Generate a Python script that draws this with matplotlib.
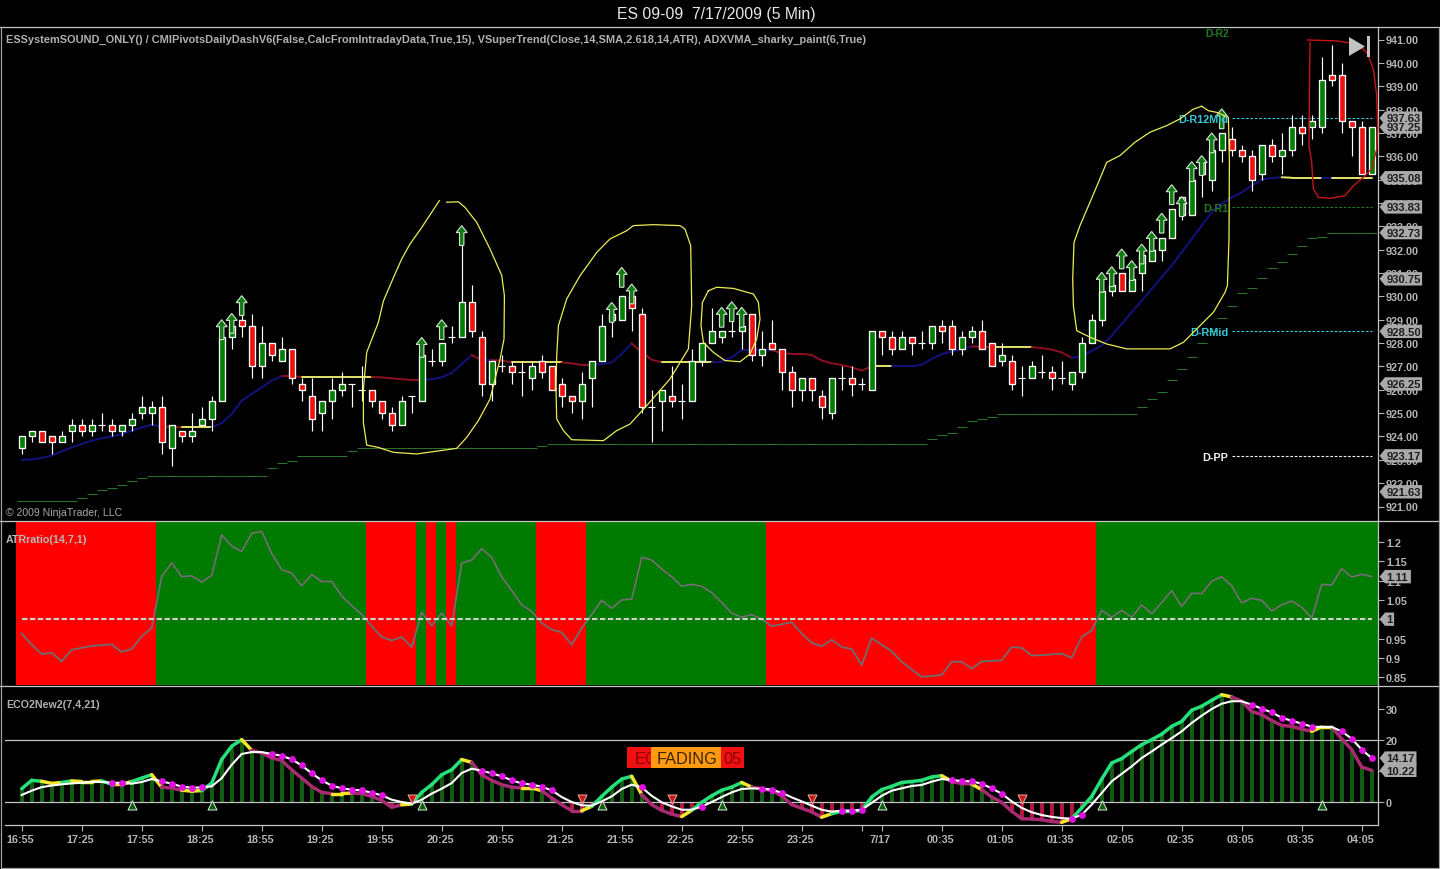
import numpy as np
import matplotlib
matplotlib.use('Agg')
import matplotlib.pyplot as plt
from matplotlib.collections import LineCollection
from matplotlib.patches import Polygon, Rectangle
from matplotlib.transforms import ScaledTranslation

plt.rcParams['font.family'] = ['Liberation Sans', 'DejaVu Sans']
plt.rcParams['font.weight'] = 'bold'

# --- Price panel data (5 min bars) ---
opens = [923.5, 924, 924.25, 924, 923.75, 924.25, 924.5, 924.25, 924.5, 924.5, 924.25, 924.5, 925, 925, 925.25, 923.5, 924.25, 924, 924.5, 924.75,
         925.5, 928.25, 929, 928.75, 927, 928, 927.25, 927.75, 926.25, 925.75, 925, 925.5, 926, 926.25, 926, 926, 925.5, 925, 924.5, 925.75,
         925.5, 927.25, 927.25, 928.25, 928.25, 929.75, 928.25, 926.25, 927, 927, 926.75, 926.5, 927.25, 927, 926.25, 925.75, 925.5, 926.5, 927.25, 929,
         929, 930, 929.25, 925.25, 925.5, 925.75, 925.5, 925.5, 927.25, 928, 928.25, 928.5, 928.5, 929.25, 927.5, 928, 927.75, 926.75, 926, 926.5,
         925.75, 925, 926.5, 926.5, 926.25, 926, 928.5, 928.25, 927.75, 928.25, 928, 928, 928.75, 928.75, 927.75, 928.25, 928.5, 928, 927.25, 927.25,
         926.5, 926.5, 926.75, 926.75, 926.5, 926.25, 926.75, 928, 929, 930.25, 931, 930.25, 931, 931.5, 932, 932.5, 933.5, 933.5, 935.25, 935,
         936.25, 936.75, 936.25, 936, 935.25, 936.5, 936, 936.25, 937.25, 937.25, 937.25, 939.5, 939.5, 937.5, 937.25, 935.25]
highs = [924, 924.25, 924.25, 924, 924.25, 924.75, 924.75, 924.75, 925, 924.75, 924.5, 925, 925.75, 925.5, 925.75, 924.5, 924.25, 925, 925.25, 925.75,
         928.25, 928.75, 929.25, 929.25, 928.75, 928, 928.25, 927.75, 926.5, 926.5, 925.5, 926.5, 926.75, 926.25, 927, 926, 925.5, 925.25, 925.75, 925.75,
         927.5, 927.75, 928, 928.75, 932.25, 930.5, 928.5, 927.25, 927.5, 927.25, 927.25, 927.25, 927.5, 927, 926.5, 925.75, 926.75, 927.25, 929.25, 929.25,
         930, 930, 929.5, 926, 926, 927, 926.25, 927.75, 928, 929.5, 928.5, 929, 928.75, 929.25, 928.5, 929, 927.75, 927, 926.5, 926.5,
         926, 926.5, 927, 927, 926.5, 928.5, 928.5, 928.5, 928.5, 928.25, 928.5, 928.75, 929, 929, 928.5, 928.75, 929, 928, 928, 927.5,
         927, 927.25, 927.5, 927, 927.25, 926.75, 928.25, 929.25, 930.25, 930.5, 931, 930.75, 931.75, 932, 932.5, 933.75, 934.25, 935, 935.75, 936.25,
         937, 937.25, 936.5, 936.25, 936.5, 936.75, 937, 937.75, 937.75, 937.75, 940.25, 940.75, 940, 937.5, 937.5, 937.25]
lows = [923.25, 923.75, 923.75, 923.25, 923.75, 923.75, 924, 924, 924.25, 924, 924, 924.25, 924.75, 924.5, 923.25, 922.75, 923.75, 923.75, 924.5, 924.25,
        925.5, 927.75, 928.25, 926.5, 926.5, 927.25, 927.25, 926.25, 925.5, 924.25, 924.25, 924.75, 925.75, 925.25, 925.5, 925.25, 924.75, 924.25, 924.5, 925,
        925.5, 927, 927, 928, 928.25, 928.25, 925.75, 925.5, 926.75, 926.25, 925.75, 926, 926.5, 926, 925.25, 925, 924.75, 925.25, 927.25, 928.25,
        929, 928.5, 925, 923.75, 924.25, 925.25, 924.75, 925.5, 927, 928, 928, 928.25, 927.75, 927.25, 927, 927.75, 926, 925.25, 925.5, 925.5,
        924.75, 924.75, 926, 925.75, 926, 926, 927.5, 927.5, 927.75, 927.5, 927.75, 927.75, 928, 927.5, 927.5, 928, 927.75, 927, 927, 926,
        925.75, 926.5, 926.5, 926, 926.25, 926, 926.5, 928, 928.75, 930, 930.25, 930.25, 930.25, 931.5, 931.5, 932.5, 933.25, 933.5, 934.25, 934.5,
        935.75, 936, 935.75, 934.5, 935, 935.75, 935.25, 936, 936.5, 936.75, 937, 939, 937, 936, 935.25, 935.25]
closes = [924, 924.25, 923.75, 923.75, 924, 924.5, 924.25, 924.5, 924.5, 924.25, 924.5, 924.75, 925.25, 925.25, 923.75, 924.5, 924, 924.25, 924.75, 925.5,
          928.25, 928.75, 928.75, 927, 928, 927.5, 927.75, 926.5, 926, 924.75, 925.5, 926, 926.25, 926.25, 926, 925.5, 925, 924.5, 925.5, 925.75,
          927.5, 927.25, 928, 928.25, 929.75, 928.5, 926.25, 927.25, 927, 926.75, 926.75, 927, 926.75, 926, 925.75, 925.5, 926.25, 927.25, 928.75, 929.25,
          930, 929.5, 925.25, 925.25, 926, 925.5, 925.5, 927.25, 928, 928.5, 928.5, 928.5, 928.75, 927.5, 927.75, 927.75, 926.75, 926, 926.5, 926,
          925.25, 926.5, 926.5, 926.25, 926.25, 928.5, 928.25, 927.75, 928.25, 928, 928, 928.75, 928.5, 927.75, 928.25, 928.5, 927.75, 927, 927.5, 926.25,
          926.5, 927, 926.75, 926.5, 926.5, 926.75, 928, 929, 930.25, 930.5, 930.25, 930.75, 931.75, 932, 932.5, 933.75, 934.25, 935, 935.75, 936.25,
          937, 936.25, 936, 935, 936.5, 936, 936.25, 937.25, 937, 937.5, 939.25, 939.25, 937.5, 937.25, 935.25, 937.25]

# ADXVMA line and its paint state per bar
adx = [923.0, 923.02, 923.08, 923.18, 923.36, 923.53, 923.68, 923.82, 923.92, 924.0, 924.09, 924.25, 924.39, 924.5,
       924.43, 924.4, 924.39, 924.39, 924.39, 924.39, 924.57, 924.96, 925.53, 925.82, 926.1, 926.39, 926.58, 926.58,
       926.55, 926.55, 926.55, 926.55, 926.55, 926.55, 926.55, 926.55,
       926.53, 926.49, 926.45, 926.42, 926.43, 926.45, 926.53, 926.72, 927.1, 927.49,
       927.27, 927.27, 927.25, 927.17, 927.17, 927.17, 927.17, 927.17, 927.17, 927.13, 927.06,
       927.06, 927.1, 927.17, 927.53, 927.99, 927.6, 927.29, 927.17,
       927.17, 927.17, 927.17, 927.17, 927.17, 927.2, 927.39, 927.7, 927.7, 927.7, 927.7,
       927.56, 927.54, 927.54, 927.49, 927.25, 927.13, 927.06, 926.96, 926.82,
       927, 927, 927, 927, 927, 927.07, 927.32, 927.53, 927.63, 927.74, 927.86,
       927.83, 927.82, 927.82, 927.82, 927.82, 927.82, 927.79, 927.72, 927.6, 927.37,
       927.43, 927.67, 927.89, 928.32, 928.82, 929.32, 929.82, 930.32, 930.82, 931.32, 931.89, 932.46, 933.03, 933.6,
       933.96, 934.24, 934.45, 934.74, 935, 935.07, 935.1,
       935.08, 935.08, 935.08, 935.08, 935.08, 935.08, 935.08, 935.08, 935.08]
adx_state = ('b' * 14 + 'r' * 2 + 'y' * 3 + 'b' * 7 + 'r' * 2 + 'y' * 7 + 'r' * 5 + 'b' * 5 + 'r' + 'b' + 'r' * 2
             + 'y' * 5 + 'r' * 3 + 'b' * 4 + 'r' * 3 + 'y' * 5 + 'b' * 6 + 'r' * 10 + 'y' * 2 + 'b' * 8 + 'r' * 2
             + 'y' * 4 + 'r' * 4 + 'b' * 21 + 'y' * 4 + 'b' + 'y' * 5)

# VSuperTrend stepped line
supertrend = ([921.22] * 6 + [921.35, 921.52, 921.7, 921.78, 921.92, 922.08, 922.2] + [922.3] * 12
              + [922.63, 922.85, 922.93] + [923.15] * 5 + [923.36] + [923.49] * 18 + [923.6] + [923.68] * 38
              + [923.89, 924.06, 924.14, 924.39, 924.65, 924.75, 924.82] + [924.96] * 14
              + [925.25, 925.6, 925.9, 926.4, 926.9, 927.39, 927.99, 928.5, 929.06, 929.6, 930.13, 930.34, 930.79,
                 931.21, 931.46, 931.8, 932.14, 932.5, 932.53] + [932.73] * 5)

# Up arrows: bar number and price of the tip
arrow_bars = [20, 21, 22, 40, 42, 44, 59, 60, 61, 70, 71, 72, 108, 109, 110, 111, 112, 113, 114, 115, 116, 117, 118, 119, 120]
arrow_tips = [929.0, 929.27, 930.03, 928.24, 929.0, 933.03, 929.74, 931.24, 930.53, 929.53, 929.77, 929.53,
              931.03, 931.27, 932.03, 931.53, 932.24, 932.78, 933.56, 934.78, 934.27, 935.77, 936.03, 937.0, 938.03]

# Pivot levels
pivot_names = ['D-R12Mid', 'D-R1', 'D-RMid', 'D-PP']
pivot_levels = [937.63, 933.83, 928.50, 923.17]
pivot_colors = ['#35c8d8', '#1f7a1f', '#35c8d8', '#f0f0f0']

price_flags = [937.63, 937.25, 935.08, 933.83, 932.73, 930.75, 928.50, 926.25, 923.17, 921.63]

# Hand drawn circles (bar number, price)
circle1_x = [41.77, 41, 40, 38.83, 38, 37.17, 36.17, 35.67, 34.5, 34.17, 34.17, 34.5, 35.67, 37.17, 39.5, 41.83, 43.5, 44.5, 45.67, 46.83, 47.83, 48.23, 48.27, 48, 46.83, 45.5, 44.33, 43.67, 42.5]
circle1_y = [934.1, 933.6, 932.95, 932.24, 931.6, 930.8, 929.8, 928.89, 927.6, 926.03, 924.6, 923.63, 923.53, 923.32, 923.25, 923.39, 923.49, 923.96, 924.68, 925.6, 927.3, 928.17, 930.03, 930.9, 932.03, 933.17, 933.81, 934.05, 934.03]
circle2_x = [53.43, 53.5, 54.17, 55, 58.17, 59.5, 60.83, 62.5, 64.83, 66.67, 67, 66.9, 66.33, 65.83, 63.17, 61.17, 60.5, 58.83, 57.5, 55.83, 54.5, 53.67, 53.5, 53.43]
circle2_y = [926.03, 924.75, 924.25, 923.86, 923.82, 924.25, 924.53, 925.32, 926.46, 927.75, 929.6, 932.17, 932.88, 933.03, 933.07, 933.03, 932.81, 932.46, 931.88, 930.88, 929.89, 928.74, 927.46, 926.03]
circle3_x = [68.67, 69.5, 71.17, 73.17, 73.67, 73.83, 73.5, 72.83, 71.83, 70.33, 69.17, 68.17, 67.93, 68.07, 68.67]
circle3_y = [930.24, 930.39, 930.34, 930.1, 929.74, 929.03, 928.17, 927.53, 927.2, 927.25, 927.6, 928.03, 928.74, 929.74, 930.24]
circle4_x = [118, 117.17, 115.83, 114.5, 112.83, 111.33, 109.83, 108.5, 107.67, 106.83, 105.83, 105.23, 105.1, 105.17, 105.5, 106.83, 108.5, 110.5, 114.83, 116.17, 117.5, 119.17, 120.33, 120.57, 120.73, 120.77, 120.67, 119.5, 118.67, 118]
circle4_y = [938.14, 938.02, 937.6, 937.31, 937.03, 936.6, 936.03, 935.74, 934.88, 934.03, 933.03, 932.31, 930.74, 929.6, 928.53, 928.25, 927.96, 927.75, 927.75, 928.03, 928.6, 929.32, 930.17, 930.46, 932.46, 935.74, 937.67, 937.88, 937.95, 938.14]
circle5_x = [128.57, 131.5, 133.5, 134.5, 135.17, 135.5, 135.6, 135.5, 135, 134.17, 133.17, 132.33, 130.83, 129.67, 129.17, 129, 128.73, 128.77, 128.83]
circle5_y = [940.98, 940.94, 940.81, 940.45, 939.74, 938.6, 937.17, 936.31, 935.45, 935.1, 934.74, 934.31, 934.2, 934.24, 934.6, 935.74, 936.45, 938.6, 940.88]

# --- ATRratio panel data ---
atr = [0.963, 0.934, 0.91, 0.913, 0.891, 0.921, 0.926, 0.931, 0.933, 0.935, 0.915, 0.923, 0.956, 0.977, 1.11, 1.146, 1.11, 1.112, 1.096, 1.113,
       1.218, 1.189, 1.175, 1.222, 1.227, 1.17, 1.128, 1.119, 1.086, 1.116, 1.097, 1.098, 1.06, 1.035, 1.012, 0.982, 0.954, 0.945, 0.954, 0.928,
       1.018, 0.983, 1.016, 0.983, 1.145, 1.153, 1.182, 1.16, 1.11, 1.074, 1.037, 1.02, 0.99, 0.973, 0.966, 0.934, 0.977, 1.012, 1.049, 1.028,
       1.05, 1.052, 1.16, 1.153, 1.13, 1.11, 1.085, 1.09, 1.085, 1.069, 1.043, 1.016, 1.005, 1.012, 1.0, 0.982, 0.987, 0.992, 0.963, 0.939,
       0.93, 0.947, 0.928, 0.923, 0.881, 0.951, 0.934, 0.917, 0.89, 0.87, 0.851, 0.853, 0.856, 0.89, 0.89, 0.872, 0.891, 0.892, 0.894, 0.928,
       0.926, 0.906, 0.907, 0.909, 0.911, 0.9, 0.954, 0.971, 1.023, 1.005, 1.023, 1.005, 1.037, 1.014, 1.043, 1.074, 1.033, 1.067, 1.066, 1.098,
       1.11, 1.086, 1.042, 1.054, 1.049, 1.021, 1.037, 1.047, 1.031, 1.003, 1.09, 1.088, 1.131, 1.109, 1.116, 1.11]
atr_state = 'r' * 14 + 'g' * 21 + 'r' * 5 + 'g' + 'r' + 'g' + 'r' + 'g' * 8 + 'r' * 5 + 'g' * 18 + 'r' * 33 + 'g' * 28
atr_ticks = [0.85, 0.9, 0.95, 1, 1.05, 1.1, 1.15, 1.2]

# --- ECO2New2 panel data ---
eco = [4.3, 7.0, 6.67, 6.0, 6.3, 6.8, 6.6, 6.6, 6.8, 5.7, 5.7, 6.6, 7.7, 8.8, 4.8, 4.5, 3.8, 3.5, 3.7, 6.1,
       13.7, 18, 20.1, 16.7, 15.8, 14.2, 13.4, 10.4, 7.7, 5.05, 3.1, 2.7, 2.7, 2.9, 2.7, 1.8, 0.54, -1.7, -0.9, -0.65,
       3.1, 5.6, 8.8, 10.4, 13.7, 12.8, 8.7, 7, 5.6, 4.8, 4.5, 4.5, 3.66, 1.3, -0.86, -2.8, -2.8, -1.4, 1.8, 4.8,
       7.4, 8.3, 2.4, -0.86, -2.7, -3.9, -4.7, -2.7, -0.1, 2.0, 3.8, 4.8, 6.3, 4.8, 4.3, 3.66, 2.0, -0.86, -2.0, -3.2,
       -4.9, -3.76, -3.0, -3.0, -2.7, 1.6, 4.0, 5.05, 6.3, 6.6, 7.0, 8.06, 8.5, 6.67, 5.9, 5.8, 4.0, 1.6, -0.1, -3.0,
       -5.4, -5.5, -5.7, -6.3, -6.56, -5.4, -1.9, 1.8, 7.4, 12.6, 14, 16.3, 18.5, 20.1, 21.9, 24.4, 26, 29.6, 30.9, 32.8,
       34.6, 33.9, 32.5, 29.2, 28.2, 26.3, 24.7, 24.4, 23.5, 22.8, 24.2, 24.2, 20.4, 16.9, 11.3, 10.22]
eco_signal = [2.26, 3.66, 4.8, 5.3, 5.7, 6.0, 6.2, 6.45, 6.45, 6.2, 6.2, 5.9, 6.45, 7.4, 6.67, 5.9, 4.95, 4.6, 4.7, 5.05,
              7.7, 12.0, 15.5, 16.1, 16.1, 15.5, 14.9, 13.76, 11.8, 9.25, 7, 5.3, 4.4, 4, 3.76, 3.0, 2.15, 0.75, 0, -0.54,
              0.75, 2.7, 4.3, 6.1, 9.35, 10.75, 10.1, 9.25, 8.3, 7, 6.0, 5.6, 4.95, 3.76, 1.6, 0, -1.08, -1.18, 0.2, 1.8,
              4.2, 5.6, 4.7, 2.0, -0.1, -1.4, -2.5, -2.5, -1.5, 0, 1.6, 3.1, 4.2, 4.4, 4.3, 4, 3.0, 1.5, 0.2, -1.18,
              -2.5, -3.1, -2.8, -2.8, -2.5, -0.3, 2.0, 3.66, 4.4, 5.16, 5.5, 6.56, 7.4, 7.1, 6.8, 6.67, 5.9, 4.4, 2.7, 0.2,
              -1.9, -3.3, -4.2, -4.8, -5.2, -5.4, -4.1, -0.86, 2.9, 6.67, 9.1, 11.5, 14.2, 16.3, 18.5, 20.6, 22.8, 25.5, 27.85, 30,
              31.7, 32.5, 32.5, 31.4, 30.1, 28.9, 27.2, 26.2, 25.3, 24.3, 24.2, 24.2, 22.8, 20.4, 16.9, 14.17]
eco_state = ('g' * 2 + 'y' * 2 + 'g' + 'y' * 3 + 'g' + 'y' * 2 + 'g' * 2 + 'y' + 'p' * 2 + 'y' * 2 + 'g' * 4 + 'y'
             + 'p' * 8 + 'y' * 2 + 'p' * 5 + 'y' + 'g' * 5 + 'y' + 'p' * 5 + 'y' * 2 + 'p' * 4 + 'y' + 'g' * 4 + 'y'
             + 'p' * 4 + 'y' + 'g' * 5 + 'y' + 'p' * 7 + 'y' + 'g' * 11 + 'y' + 'p' * 2 + 'y' + 'p' * 8 + 'y'
             + 'g' * 15 + 'y' + 'p' * 8 + 'y' * 2 + 'p' * 5)
dot_bars = [9, 10, 14, 15, 16, 17, 18, 25, 26, 27, 28, 29, 30, 31, 32, 33, 34, 35, 36, 46, 47, 48, 49, 50, 51, 52, 53, 62, 68,
            74, 75, 76, 82, 83, 84, 93, 94, 95, 96, 97, 98, 105, 106, 123, 124, 125, 126, 127, 128, 129, 132, 133, 134, 135]
up_marks = [11, 19, 40, 58, 70, 86, 108, 130]
down_marks = [39, 56, 65, 79, 100]
eco_ticks = [0, 10, 20, 30]

# Time axis
time_ticks = [0, 6, 12, 18, 24, 30, 36, 42, 48, 54, 60, 66, 72, 78, 84, 86, 92, 98, 104, 110, 116, 122, 128, 134]
time_labels = ['16:55', '17:25', '17:55', '18:25', '18:55', '19:25', '19:55', '20:25', '20:55', '21:25', '21:55', '22:25',
               '22:55', '23:25', '', '7/17', '00:35', '01:05', '01:35', '02:05', '02:35', '03:05', '03:35', '04:05']

W, H = 1440, 870
GREY = '#b4b4b4'
LINE = '#c4c4c4'
BAR_PX = 10.0
bars = np.arange(len(opens))


def bar_of(px):
    return (px - 21.7) / BAR_PX


def add_panel(left, top, bottom, vtop, vbottom):
    ax = fig.add_axes([left / W, 1 - bottom / H, (1378 - left) / W, (bottom - top) / H], facecolor='black')
    ax.set_xlim(bar_of(left), bar_of(1378))
    ax.set_ylim(vbottom, vtop)
    for s in ['top', 'left', 'bottom']:
        ax.spines[s].set_visible(False)
    ax.spines['right'].set_color(LINE)
    ax.spines['right'].set_linewidth(0.9)
    ax.yaxis.tick_right()
    ax.tick_params(axis='y', colors=GREY, length=4.3, width=0.8, labelsize=7.8, pad=1.5)
    ax.set_xticks([])
    return ax


def painted_line(ax, x, y, state, palette, lw, zorder):
    pts = np.column_stack([x, y])
    segs = np.stack([pts[:-1], pts[1:]], axis=1)
    colors = [palette[c] for c in state[:-1]]
    lc = LineCollection(segs, colors=colors, linewidths=lw, zorder=zorder, capstyle='round')
    ax.add_collection(lc)


def value_flag(ax, value, text, units_per_px):
    # grey price marker sitting on the right axis
    width = (9 + 5.6 * len(text)) / BAR_PX
    x0 = bar_of(1379.5)
    half = 6.7 * units_per_px
    tip = 0.55
    ax.add_patch(Polygon([(x0, value), (x0 + tip, value + half), (x0 + width, value + half),
                          (x0 + width, value - half), (x0 + tip, value - half)],
                         closed=True, facecolor='#a9a9a9', edgecolor='none', clip_on=False, zorder=5))
    ax.text(x0 + tip + 0.12, value - 0.2 * units_per_px, text, color='#1c1c1c', fontsize=8.1, ha='left', va='center',
            clip_on=False, zorder=6)


fig = plt.figure(figsize=(W / 100, H / 100), dpi=100, facecolor='black')

# --- Price panel ---
PX_PRICE = 23.35
ax1 = add_panel(1, 28, 521, 941 + 12.5 / PX_PRICE, 941 - 480.5 / PX_PRICE)
ax1.set_yticks(np.arange(921, 942))
ax1.set_yticklabels([f'{v:.2f}' for v in np.arange(921, 942)])

for i in bars:
    ax1.hlines(supertrend[i], i - 0.5, i + 0.5, color='#2c702c', linewidth=0.8, zorder=1)
painted_line(ax1, bars, adx, adx_state, {'b': '#12127e', 'r': '#8c1020', 'y': '#e4e46a'}, 1.4, 1.5)

ax1.vlines(bars, lows, highs, color='white', linewidth=0.85, zorder=2)
o = np.array(opens)
c = np.array(closes)
is_doji = o == c
body_colors = ['#008000' if b > a else '#f01010' for a, b in zip(o, c)]
ax1.bar(bars[~is_doji], (c - o)[~is_doji], bottom=o[~is_doji], width=0.62,
        color=[bc for bc, d in zip(body_colors, is_doji) if not d], edgecolor='white', linewidth=0.95, zorder=2.2)
ax1.hlines(o[is_doji], bars[is_doji] - 0.35, bars[is_doji] + 0.35, color='white', linewidth=0.85, zorder=2.2)

for b, tip in zip(arrow_bars, arrow_tips):
    ax1.add_patch(Polygon([(b, tip), (b + 0.55, tip - 0.3), (b + 0.22, tip - 0.3), (b + 0.22, tip - 0.85),
                           (b - 0.22, tip - 0.85), (b - 0.22, tip - 0.3), (b - 0.55, tip - 0.3)],
                          closed=True, facecolor='#127a12', edgecolor='#cfe6cf', linewidth=0.8, zorder=3))

for name, level, col in zip(pivot_names, pivot_levels, pivot_colors):
    ax1.hlines(level, bar_of(1232), bar_of(1372), color=col, linewidth=0.8, linestyles=(0, (2.5, 1.5)), zorder=1.8)
    ax1.text(bar_of(1228.5), level - 0.03, name, color=col, fontsize=7.8, ha='right', va='center', zorder=3.5)
ax1.text(bar_of(1228.5), 941.28, 'D-R2', color='#1f7a1f', fontsize=7.4, ha='right', va='center', clip_on=True)

for cx, cy in [(circle1_x, circle1_y), (circle2_x, circle2_y), (circle3_x, circle3_y), (circle4_x, circle4_y)]:
    ax1.plot(cx, cy, color='#ecec55', linewidth=0.9, zorder=4)
ax1.plot(circle5_x, circle5_y, color='#c81414', linewidth=1.0, zorder=4, clip_on=False)

for v in price_flags:
    value_flag(ax1, v, f'{v:.2f}', 1 / PX_PRICE)

# --- ATRratio panel ---
PX_ATR = 388.0
atr_top = 1 + 99 / PX_ATR
atr_bottom = 1 - 66 / PX_ATR
ax2 = add_panel(1, 521.5, 686, atr_top, atr_bottom)
widths = [1.02] * (len(bars) - 1) + [1.3]
ax2.bar(bars - 0.07, atr_top - atr_bottom, bottom=atr_bottom, width=widths, linewidth=0,
        color=['#ff0000' if s == 'r' else '#007a00' for s in atr_state], zorder=1)
ax2.plot(bars, atr, color='#6e6e6e', linewidth=1.3, zorder=2)
ax2.plot([bars[0], bars[-1]], [1, 1], color='#ccd4cc', linewidth=1.5, linestyle=(0, (2.6, 1.2)), zorder=3)
ax2.set_yticks(atr_ticks)
ax2.set_yticklabels(['0.85', '0.9', '0.95', '1', '1.05', '1.1', '1.15', '1.2'])
value_flag(ax2, 1, '1', 1 / PX_ATR)
value_flag(ax2, 1.11, '1.11', 1 / PX_ATR)

# --- ECO2New2 panel ---
PX_ECO = 3.1
ax3 = add_panel(5, 686, 826, (803 - 686) / PX_ECO, (803 - 826) / PX_ECO)
ax3.spines['bottom'].set_visible(True)
ax3.spines['bottom'].set_color(LINE)
ax3.spines['bottom'].set_linewidth(0.9)
e = np.array(eco)
ax3.bar(bars, e, width=0.42, linewidth=0, color=['#125c12' if v >= 0 else '#b01840' for v in e], zorder=1)
ax3.axhline(0, color=LINE, linewidth=0.9, zorder=1.5)
ax3.axhline(20, color=LINE, linewidth=0.9, zorder=1.5)
painted_line(ax3, bars, eco, eco_state, {'g': '#26e07a', 'y': '#f4e62a', 'p': '#a82a70'}, 2.5, 2)
ax3.plot(bars, eco_signal, color='white', linewidth=1.5, zorder=3)
sig = np.array(eco_signal)
ax3.scatter(dot_bars, sig[dot_bars], s=24, color='#e010e0', linewidths=0, zorder=4)
ax3.scatter(up_marks, [-1.0] * len(up_marks), marker='^', s=42, facecolor='#125c12', edgecolor='#d8ecd8', linewidths=0.7, zorder=3.5)
ax3.scatter(down_marks, [1.0] * len(down_marks), marker='v', s=42, facecolor='#c81818', edgecolor='#f0b0a0', linewidths=0.7, zorder=3.5)
ax3.set_yticks(eco_ticks)
ax3.set_yticklabels(['0', '10', '20', '30'])
ax3.set_xticks(time_ticks)
ax3.set_xticklabels(time_labels)
ax3.tick_params(axis='x', colors=GREY, length=4.3, width=0.8, labelsize=7.8, pad=2)
shift = ScaledTranslation(-1.6 / 100, 0, fig.dpi_scale_trans)
for lbl in ax3.get_xticklabels():
    lbl.set_transform(lbl.get_transform() + shift)
value_flag(ax3, 14.17, '14.17', 1 / PX_ECO)
value_flag(ax3, 10.22, '10.22', 1 / PX_ECO)

# --- Frame, captions and chart furniture in pixel space ---
ov = fig.add_axes([0, 0, 1, 1], zorder=10)
ov.set_xlim(0, W)
ov.set_ylim(H, 0)
ov.axis('off')
ov.patch.set_alpha(0)
for y in [27.5, 521.5, 686.5]:
    ov.plot([0, W], [y, y], color=LINE, linewidth=0.9)
ov.plot([0.5, 0.5, 1438.5, 1438.5], [27.5, 868.5, 868.5, 27.5], color='#a0a0a0', linewidth=0.9)

ov.text(716, 14.5, 'ES 09-09  7/17/2009 (5 Min)', color='#e8e8e8', fontsize=11.3, fontweight='normal', ha='center', va='center')
ov.text(6, 39.8, 'ESSystemSOUND_ONLY() / CMIPivotsDailyDashV6(False,CalcFromIntradayData,True,15), VSuperTrend(Close,14,SMA,2.618,14,ATR), ADXVMA_sharky_paint(6,True)',
        color='#b0b0b0', fontsize=7.95, ha='left', va='center')
ov.text(6, 513, '\u00a9 2009 NinjaTrader, LLC', color='#a8a8a8', fontsize=7.6, fontweight='normal', ha='left', va='center')
ov.text(6, 540, 'ATRratio(14,7,1)', color='#b8b8b8', fontsize=7.7, ha='left', va='center')
ov.text(6, 705, 'ECO2New2(7,4,21)', color='#b0b0b0', fontsize=7.7, ha='left', va='center')

# Chart trader style end marker
ov.add_patch(Polygon([(1349, 38), (1365, 47.5), (1349, 57)], closed=True, facecolor='#c4c4c4', edgecolor='none'))
ov.add_patch(Rectangle((1367, 37), 2.6, 21, facecolor='#c4c4c4', edgecolor='none'))

# Signal box
ov.add_patch(Rectangle((627, 748), 117, 21, facecolor='#f01010', edgecolor='none'))
ov.text(635, 759.5, 'EC', color='#8a0000', fontsize=11.7, fontweight='normal', ha='left', va='center')
ov.text(723, 759.5, '05', color='#8a0000', fontsize=11.7, fontweight='normal', ha='left', va='center')
ov.add_patch(Rectangle((651, 748), 70, 21, facecolor='#ff9a10', edgecolor='none', zorder=3))
ov.text(687, 759.5, 'FADING', color='#3a2400', fontsize=11.7, fontweight='normal', ha='center', va='center', zorder=4)

fig.savefig('out.png', dpi=100, facecolor='black')
